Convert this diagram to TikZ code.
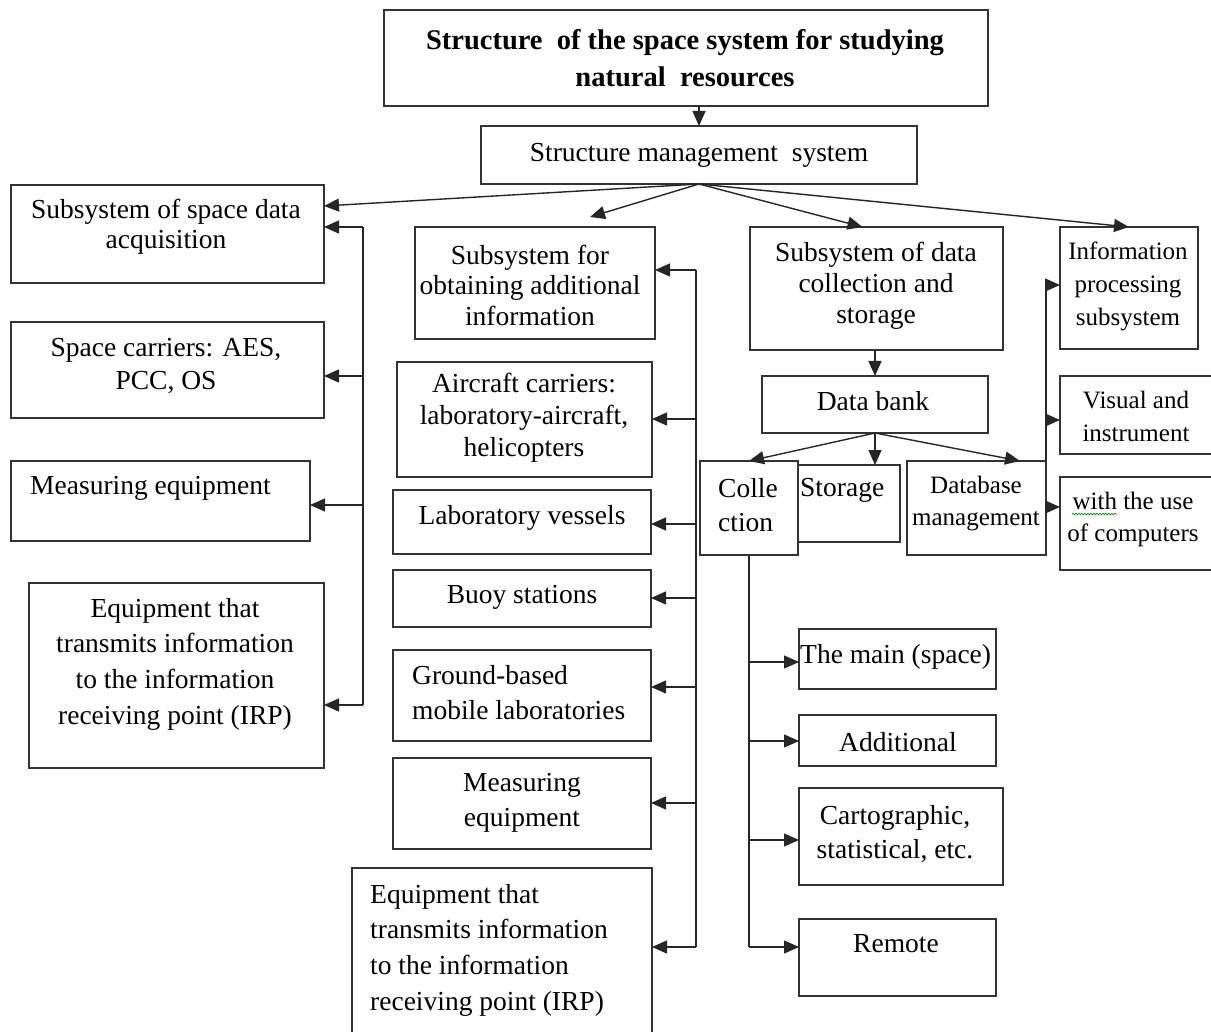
\documentclass[tikz,border=0pt]{standalone}
\usepackage{fontspec}
\setmainfont{Liberation Serif}
\usetikzlibrary{arrows.meta,calc,decorations.pathmorphing}

% rectangle node given by its corners: name, x1, y1, x2, y2
\newcommand\mkbox[5]{%
  \node[box, minimum width={#4-#2}, minimum height={#5-#3}] (#1)
    at ({(#2+#4)/2},{(#3+#5)/2}) {};}

\begin{document}
\begin{tikzpicture}[x=1pt,y=-1pt,
  box/.style={draw=black!80, line width=1.3pt, inner sep=0pt, outer sep=0pt},
  lbl/.style={inner sep=0pt, align=center, font=\fontsize{27.5}{31}\selectfont},
  small/.style={lbl},
  wire/.style={draw=black!85, line width=1.4pt},
  arr/.style={wire, -{Triangle[length=15pt,width=13pt]}},
]
\useasboundingbox (0,0) rectangle (1211,1032);

% ---------- boxes ----------
\mkbox{T}{384}{10}{988}{106}
\mkbox{M}{481}{126}{917}{184}
% space data acquisition column
\mkbox{A}{11}{185}{324}{283}
\mkbox{SC}{11}{322}{324}{418}
\mkbox{ME}{11}{461}{310}{541}
\mkbox{EQ}{29}{583}{324}{768}
% additional information column
\mkbox{B}{415}{227}{655}{339}
\mkbox{AC}{397}{362}{652}{477}
\mkbox{LV}{393}{490}{651}{554}
\mkbox{BU}{393}{570}{651}{627}
\mkbox{GR}{393}{650}{651}{741}
\mkbox{MM}{393}{758}{651}{849}
\mkbox{EM}{352}{868}{652}{1036}
% data collection and storage
\mkbox{C}{750}{227}{1003}{350}
\mkbox{DBk}{762}{376}{988}{433}
\mkbox{CL}{700}{461}{798}{555}
\mkbox{ST}{798}{465}{900}{542}
\mkbox{DBM}{907}{461}{1046}{555}
\mkbox{MA}{799}{629}{996}{689}
\mkbox{AD}{799}{715}{996}{766}
\mkbox{CA}{799}{788}{1003}{885}
\mkbox{RE}{799}{919}{996}{996}
% information processing
\mkbox{D}{1060}{227}{1198}{349}
\mkbox{VI}{1060}{376}{1214}{454}
\mkbox{CO}{1060}{477}{1214}{570}

% ---------- texts ----------
\node[lbl, font=\bfseries\fontsize{28.5}{37}\selectfont] (T-t) at (685,58)
  {Structure\ \ of the space system for studying\\natural\ \ resources};
\node[lbl] (M-t) at (699,155) {Structure management\ \ system};

\node[lbl, font=\fontsize{27.5}{30}\selectfont] (A-t) at (166,227)
  {Subsystem of space data\\acquisition};
\node[lbl, font=\fontsize{27.5}{33}\selectfont] (SC-t) at (166,366)
  {Space carriers: AES,\\PCC, OS};
\node[lbl, anchor=west] (ME-t) at (30,488) {Measuring equipment};
\node[lbl, font=\fontsize{27.5}{35.7}\selectfont] (EQ-t) at (175,664)
  {Equipment that\\transmits information\\to the information\\receiving point (IRP)};

\node[lbl, font=\fontsize{27.5}{30.5}\selectfont] (B-t) at (530,285)
  {Subsystem for\\obtaining additional\\information};
\node[lbl, font=\fontsize{27.5}{32}\selectfont] (AC-t) at (524,418)
  {Aircraft carriers:\\laboratory-aircraft,\\helicopters};
\node[lbl] (LV-t) at (522,518) {Laboratory vessels};
\node[lbl] (BU-t) at (522,597) {Buoy stations};
\node[lbl, anchor=west, align=left, font=\fontsize{27.5}{35}\selectfont] (GR-t) at (412,692.5)
  {Ground-based\\mobile laboratories};
\node[lbl, font=\fontsize{27.5}{35}\selectfont] (MM-t) at (522,803)
  {Measuring\\equipment};
\node[lbl, anchor=west, align=left, font=\fontsize{27.5}{35.7}\selectfont] (EM-t) at (370,950)
  {Equipment that\\transmits information\\to the information\\receiving point (IRP)};

\node[lbl, font=\fontsize{27.5}{31}\selectfont] (C-t) at (876,285.5)
  {Subsystem of data\\collection and\\storage};
\node[lbl] (DBk-t) at (873,401.5) {Data bank};
\node[lbl, anchor=west, align=left, font=\fontsize{27.5}{34}\selectfont] (CL-t) at (718,505)
  {Colle\\ction};
\node[lbl, anchor=west] (ST-t) at (800,490.5) {Storage};
\node[small, font=\fontsize{25}{32}\selectfont] (DBM-t) at (976,504)
  {Database\\management};
\node[lbl, anchor=west] (MA-t) at (800,657) {The main (space)};
\node[lbl] (AD-t) at (898,742) {Additional};
\node[lbl, font=\fontsize{27.5}{34}\selectfont] (CA-t) at (895,834.5)
  {Cartographic,\\statistical, etc.};
\node[lbl] (RE-t) at (896,944) {Remote};

\node[small, font=\fontsize{25}{33}\selectfont] (D-t) at (1128,286)
  {Information\\processing\\subsystem};
\node[small, font=\fontsize{25}{33}\selectfont] (VI-t) at (1136,416.5)
  {Visual and\\instrument};
\node[small, font=\fontsize{25}{32}\selectfont] (CO-t) at (1133,519)
  {with the use\\of computers};
% spell-check underline under "with"
\draw[green!55!black, line width=0.7pt, decorate,
      decoration={snake, amplitude=0.8pt, segment length=3pt}]
  (1072,514) -- (1117,514);

% ---------- connectors ----------
\draw[arr] (T.south -| M.north) -- (M.north);
\draw[arr] (M.south) -- ([yshift=28pt]A.east);
\draw[arr] (M.south) -- ([xshift=55pt,yshift=10pt]B.north);
\draw[arr] (M.south) -- ([xshift=-14pt]C.north);
\draw[arr] (M.south) -- (D.north);

% bus of the space data acquisition column
\coordinate (lbus) at (363,0);
\coordinate (A-in)  at ([yshift=7pt]A.east);
\coordinate (SC-in) at ([yshift=-6pt]SC.east);
\coordinate (ME-in) at ([yshift=-4pt]ME.east);
\coordinate (EQ-in) at ([yshift=-29.5pt]EQ.east);
\draw[wire] (A-in -| lbus) -- (EQ-in -| lbus);
\foreach \n in {A,SC,ME,EQ} \draw[arr] (\n-in -| lbus) -- (\n-in);

% bus of the additional information column
\coordinate (mbus) at (696,0);
\coordinate (B-in)  at ([yshift=13pt]B.east);
\coordinate (AC-in) at ([yshift=0.5pt]AC.east);
\coordinate (LV-in) at ([yshift=-2pt]LV.east);
\coordinate (BU-in) at ([yshift=0.5pt]BU.east);
\coordinate (GR-in) at ([yshift=8.5pt]GR.east);
\coordinate (MM-in) at ([yshift=0.5pt]MM.east);
\coordinate (EM-in) at ([yshift=5pt]EM.east);
\draw[wire] (B-in -| mbus) -- (EM-in -| mbus);
\foreach \n in {B,AC,LV,BU,GR,MM,EM} \draw[arr] (\n-in -| mbus) -- (\n-in);

% data bank
\draw[arr] (C.south -| DBk.north) -- (DBk.north);
\draw[arr] (DBk.south) -- (CL.north);
\draw[arr] (DBk.south) -- (DBk.south |- ST.north);
\draw[arr] (DBk.south) -- ([xshift=43.5pt]DBM.north);

% collection bus
\coordinate (MA-in) at ([yshift=-3pt]MA.west);
\coordinate (AD-in) at ([yshift=-0.5pt]AD.west);
\coordinate (CA-in) at ([yshift=-3.5pt]CA.west);
\coordinate (RE-in) at ([yshift=10.5pt]RE.west);
\draw[wire] (CL.south) -- (RE-in -| CL.south);
\foreach \n in {MA,AD,CA,RE} \draw[arr] (\n-in -| CL.south) -- (\n-in);

% information processing bus
\coordinate (D-in)  at ([yshift=3pt]D.west);
\coordinate (VI-in) at ([yshift=-5pt]VI.west);
\coordinate (CO-in) at ([yshift=16.5pt]CO.west);
\draw[wire] (D-in -| DBM.east) -- (DBM.north east);
\foreach \n in {D,VI,CO} \draw[arr] (\n-in -| DBM.east) -- (\n-in);
\end{tikzpicture}
\end{document}
